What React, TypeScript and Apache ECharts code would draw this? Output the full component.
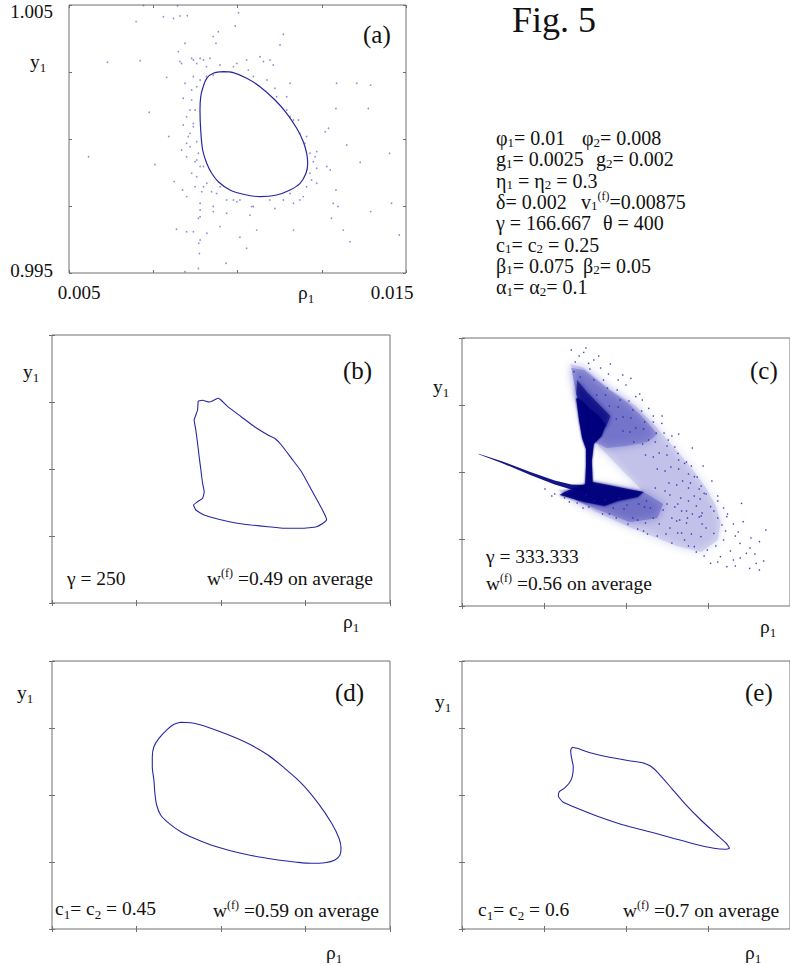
import React, { useEffect, useRef } from "react";
import * as echarts from "echarts";

const SERIF = "'Liberation Serif', 'Times New Roman', Times, serif";
const INK = "#111111";
const FRAME = "#707070";
const LOOP_BLUE = "#2626a4";
const NAVY = "#00007d";

// ---------- panel (a): real axis units ----------
const A_X_MIN = 0.005;
const A_X_MAX = 0.015;
const A_X_STEP = 0.0025;
const A_Y_MIN = 0.995;
const A_Y_MAX = 1.005;
const A_Y_STEP = 0.0025;
const A_X_TICK_LABELS = ["0.005", "0.015"];
const A_Y_TICK_LABELS = ["0.995", "1.005"];

const A_LOOP: number[][] = [
  [0.009579, 1.002511], [0.009282, 1.002451], [0.009086, 1.002265], [0.008967, 1.001892],
  [0.008908, 1.001578], [0.008887, 1.001082], [0.008908, 1.000336], [0.008967, 0.99959],
  [0.009086, 0.999093], [0.009234, 0.99872], [0.00943, 0.998407], [0.009777, 0.998097],
  [0.010172, 0.997937], [0.010668, 0.997847], [0.011163, 0.99791], [0.011558, 0.998097],
  [0.011855, 0.998347], [0.012033, 0.99872], [0.012083, 0.999093], [0.012053, 0.999466],
  [0.011953, 0.999899], [0.011757, 1.000399], [0.01146, 1.000959], [0.011113, 1.001455],
  [0.010668, 1.001951], [0.010273, 1.002265], [0.009875, 1.002474], [0.009579, 1.002511],
];

const A_SCATTER: number[][] = [
  [0.00721, 1.00498], [0.00822, 1.00497], [0.00699, 1.00438], [0.0078, 1.00456], [0.0081, 1.0045],
  [0.00829, 1.00459], [0.00851, 1.0046], [0.01003, 1.00471], [0.00993, 1.00422], [0.01136, 1.00391],
  [0.01126, 1.00351], [0.00928, 1.00382], [0.00943, 1.004], [0.00936, 1.00357], [0.00614, 1.00286],
  [0.00711, 1.00292], [0.0079, 1.0023], [0.00839, 1.00152], [0.00824, 1.00326], [0.00834, 1.00282],
  [0.00869, 1.00295], [0.00889, 1.00301], [0.00908, 1.0027], [0.00988, 1.0027], [0.01067, 1.00307],
  [0.01077, 1.00289], [0.01106, 1.00276], [0.01156, 1.00208], [0.01294, 1.00208], [0.01354, 1.00208],
  [0.01395, 1.00201], [0.01292, 1.00114], [0.01388, 1.00114], [0.0127, 1.0004], [0.0126, 1.00027],
  [0.01324, 0.99978], [0.01364, 0.99913], [0.01451, 0.99947], [0.01265, 0.99897], [0.01275, 0.99884],
  [0.0123, 0.99934], [0.01215, 0.99872], [0.01292, 0.9981], [0.01284, 0.9976], [0.01298, 0.99748],
  [0.01395, 0.99729], [0.01279, 0.99704], [0.01314, 0.9966], [0.01334, 0.99617], [0.0148, 0.99642],
  [0.01457, 0.9976], [0.01166, 1.00071], [0.01146, 1.00158], [0.00738, 1.001], [0.00796, 1.00009],
  [0.00869, 1.00058], [0.00859, 1.00021], [0.00834, 0.99959], [0.00849, 0.99934], [0.00879, 0.99922],
  [0.00889, 0.99897], [0.00755, 0.99905], [0.00812, 0.99841], [0.00837, 0.9981], [0.00849, 0.99785],
  [0.00874, 0.99822], [0.00889, 0.9976], [0.00928, 0.99748], [0.00889, 0.9971], [0.00968, 0.99723],
  [0.00948, 0.99673], [0.00909, 0.99648], [0.01007, 0.99633], [0.01057, 0.9966], [0.01027, 0.99592],
  [0.00966, 0.99536], [0.00884, 0.99517], [0.00844, 0.99505], [0.00819, 0.99663], [0.00849, 0.99654],
  [0.00885, 0.99611], [0.00887, 0.99573], [0.01166, 0.9966], [0.01111, 0.99741], [0.01136, 0.99772],
  [0.01185, 0.99772], [0.01205, 0.99822], [0.0122, 0.99847], [0.01235, 0.99891], [0.01156, 0.99797],
  [0.01047, 0.99748], [0.01007, 0.99772], [0.00988, 0.99772], [0.00938, 0.99797], [0.00899, 0.99822],
  [0.00864, 0.99872], [0.00849, 0.99984], [0.00859, 1.00108], [0.00864, 1.00146], [0.00879, 1.00195],
  [0.00889, 1.0022], [0.00908, 1.00233], [0.00928, 1.00239], [0.00558, 0.99934], [0.01027, 1.00295],
  [0.01047, 1.00233], [0.01087, 1.0022], [0.01116, 1.00158], [0.01156, 1.00083], [0.01185, 1.00021],
  [0.012, 0.99984], [0.01215, 0.99947],
  [0.00844, 1.00357], [0.00829, 1.00289], [0.00864, 1.00301], [0.00879, 1.00282], [0.00899, 1.00295],
  [0.00918, 1.00301], [0.00869, 1.00233], [0.00844, 1.00208], [0.00864, 1.00183], [0.00874, 1.00108],
  [0.00849, 1.00083], [0.00869, 1.00046], [0.00839, 1.00052], [0.00854, 1.00009], [0.00879, 0.9999],
  [0.00859, 0.99971], [0.00884, 0.99947], [0.00874, 0.99915], [0.00899, 0.99897], [0.00879, 0.99859],
  [0.00909, 0.99835], [0.00894, 0.99803], [0.00923, 0.99803], [0.00948, 0.99822], [0.00889, 0.99735],
  [0.00884, 0.99704], [0.00869, 0.99654], [0.00889, 0.99623], [0.00928, 0.99729], [0.00968, 0.99772],
  [0.00998, 0.99766], [0.01042, 0.99748], [0.01037, 0.99716], [0.01096, 0.99772], [0.01166, 0.9976],
  [0.01195, 0.99785], [0.01235, 0.99835], [0.01225, 0.99915], [0.01235, 0.99953], [0.01205, 1.00009],
  [0.01181, 1.00071], [0.01146, 1.00108], [0.01111, 1.00189], [0.01096, 1.00295], [0.01032, 1.00257],
  [0.00998, 1.00282], [0.00948, 1.00276],
];

// ---------- panels (b)-(e): unlabelled axes, arbitrary units ----------
const U_X_MAX = 336;
const U_X_STEP = 84;
const U_Y_MAX = 268;
const U_Y_STEP = 67;

const B_LOOP: number[][] = [
  [145.3, 202], [149.7, 202.7], [156.3, 201], [161.3, 203], [165.3, 204.7], [168, 203],
  [174.7, 196.3], [188, 186.3], [201.3, 176.3], [214.7, 168], [221.3, 164.7], [228, 158],
  [238, 144.7], [248, 131.3], [258, 113], [268, 94.7], [273, 83.7], [271.3, 81.3], [263, 76.3],
  [248, 74.7], [231.3, 74.7], [214.7, 76.3], [198, 78], [181.3, 80.3], [164.7, 84], [151.3, 88],
  [143, 93], [140.7, 98], [144.7, 101.3], [149.7, 104.7], [151.3, 111.3], [149.7, 119.7],
  [148, 133], [146.3, 146.3], [144.7, 159.7], [143, 173], [141.3, 183], [143, 188], [144.7, 193],
  [145.3, 202],
];

// (c) chaotic attractor: dense cores, density envelopes and sparse points
const C_BAND: number[][] = [
  [118, 208], [111, 242], [125, 238], [151, 217], [178, 200], [198, 180], [221, 154], [235, 138],
  [250, 118], [260, 100], [265, 84], [262, 66], [245, 54], [220, 60], [205, 66], [171, 79],
  [138, 94], [115, 107], [98, 116], [128, 118], [138, 121], [186, 114], [136, 164], [125, 185],
];
const C_BAND_MID: number[][] = [
  [118, 208], [112, 238], [125, 236], [151, 216], [170, 203], [186, 188], [200, 172], [190, 164],
  [168, 160], [148, 158], [136, 164], [125, 185],
];
const C_LOWER_MID: number[][] = [
  [108, 113], [138, 121], [186, 114], [206, 102], [200, 88], [172, 84], [140, 96], [118, 105],
];
const C_BLOB: number[][] = [
  [118, 226], [128, 214], [142, 200], [152, 190], [148, 180], [140, 172], [131, 176], [122, 196], [117, 212],
];
const C_TAIL: number[][] = [
  [17, 152.3], [40, 145], [70, 134], [95, 125.5], [112, 121.5], [128, 121], [128, 114],
  [112, 116.5], [95, 121.5], [70, 131], [40, 143.3], [17, 151.7],
];
const C_STEM: number[][] = [
  [126, 118], [127, 140], [127, 157], [123, 168], [120, 185], [117, 208], [122, 206], [130, 198],
  [140, 190], [147, 181], [143, 170], [135, 162], [133, 145], [134, 120],
];
const C_JUNCTION: number[][] = [
  [105, 114], [120, 120], [134, 124], [150, 121], [170, 117], [186, 114], [180, 109], [160, 105],
  [146, 100], [125, 104], [100, 111],
];
const C_SCATTER: number[][] = [
  [124.7, 253.7], [129.7, 242.7], [114.7, 234.3], [164.7, 231], [173, 227.7], [184.7, 206],
  [178, 209.3], [191.3, 197.7], [204.7, 182.7], [211.3, 166], [221.3, 152.7], [228, 142.7],
  [238, 129.3], [248, 112.7], [254.7, 99.3], [286.3, 102.7], [288, 84.3], [271.3, 89.3],
  [266.3, 81], [258, 72.7], [268, 66], [284.7, 62.7], [304.7, 64.3], [311.3, 76], [291.3, 52.7],
  [301.3, 42.7], [304.7, 36], [278, 46], [264.7, 49.3], [251.3, 56], [238, 59.3], [254.7, 42.7],
  [271.3, 39.3], [294.7, 37.7], [228, 66], [244.7, 69.3], [260, 60], [275, 55], [285, 48],
  [262, 88], [270, 75], [280, 70], [295, 58], [250, 78], [245, 90], [258, 95], [240, 100],
  [232, 118], [262, 105], [120, 250], [116, 244], [135, 246], [142, 238], [150, 232], [160, 226],
  [196, 190], [215, 170], [235, 140], [245, 120], [230, 95], [220, 85], [213, 78], [225, 73],
  [190, 72], [180, 77],
  [121, 229], [131, 237], [135, 226], [145, 226], [149, 218], [159, 216], [162, 206], [171, 205],
  [175, 196], [184, 195], [187, 184], [196, 184], [199, 173], [207, 173], [210, 160], [218, 159],
  [222, 146], [230, 144], [232, 132], [241, 129], [243, 117], [250, 112], [138, 211], [147, 211],
  [151, 200], [160, 199], [165, 189], [173, 188], [178, 178], [186, 177], [191, 166], [198, 164],
  [202, 153], [210, 151], [214, 139], [222, 137], [226, 125], [234, 123], [238, 110], [244, 107],
  [246, 93], [149, 186], [158, 187], [165, 175], [172, 174], [176, 164], [185, 162], [188, 151],
  [196, 149], [200, 137], [208, 135], [212, 123], [220, 121], [224, 108], [232, 105], [236, 92],
  [243, 89], [198, 118], [208, 115], [210, 102], [218, 99], [223, 86], [230, 83], [235, 72],
  [193, 98], [187, 99], [175, 88], [166, 97], [155, 98], [147, 106], [135, 105], [127, 111],
  [188, 83], [202, 82], [209, 72], [221, 73], [180, 86], [215, 88], [225, 95], [206, 96],
  [189, 105], [161, 108], [169, 101], [181, 102], [151, 92], [196, 88], [213, 111], [221, 102],
  [231, 88], [246, 82],
  [112, 256], [127, 258], [140, 250], [152, 242], [168, 221], [182, 212], [205, 190], [222, 172],
  [236, 158], [247, 140], [256, 125], [262, 110], [268, 98], [272, 92], [278, 82], [283, 74],
  [296, 68], [300, 52], [309, 45], [280, 40], [262, 44], [248, 50], [240, 54], [232, 60],
  [215, 63], [200, 70], [186, 75], [170, 82], [158, 88], [144, 92], [130, 99], [118, 103],
  [105, 108], [95, 112], [85, 117], [92, 110], [110, 104], [124, 98],
];

const D_LOOP: number[][] = [
  [128, 206.7], [138, 206.3], [148, 204], [164.7, 198.3], [181.3, 191.7], [198, 184], [214.7, 174],
  [231.3, 160.7], [248, 145.7], [264.7, 125.7], [278, 105.7], [285.3, 90.7], [287.3, 80.7],
  [286.3, 74], [281.3, 69], [271.3, 66.3], [258, 65.7], [241.3, 67], [224.7, 69], [208, 71.7],
  [191.3, 75], [174.7, 79], [158, 84], [141.3, 90.7], [128, 97.3], [116.3, 105.7], [108, 114],
  [104, 124], [102.3, 135.7], [101.3, 149], [99.7, 162.3], [99.7, 172.3], [101.3, 182.3],
  [106.3, 190.7], [114.7, 199.7], [121.3, 204.7], [128, 206.7],
];

const E_LOOP: number[][] = [
  [113, 181.7], [118, 180.7], [131.3, 176.3], [151.3, 171.7], [171.3, 168.3], [184.7, 166.3],
  [193, 163], [201.3, 155.7], [214.7, 140.7], [228, 125.7], [244.7, 109], [261.3, 94], [271.3, 85],
  [274, 80.7], [269.7, 79.7], [258, 80.7], [238, 85], [218, 90.3], [198, 95.7], [178, 100.7],
  [158, 106.3], [138, 113], [118, 120.7], [103, 127.3], [98.7, 133], [99.7, 137.3], [104.7, 140.7],
  [109.7, 145.7], [113, 152.3], [114, 162.3], [112, 172.3], [111.3, 179], [113, 181.7],
];

// ---------- texts ----------
const PANEL_TAGS = ["(a)", "(b)", "(c)", "(d)", "(e)"];
const FIG_TITLE = "Fig. 5";
const PARAM_LINES: string[][] = [
  ["{n|φ}{s|1}{n|= 0.01}", "{n|φ}{s|2}{n|= 0.008}"],
  ["{n|g}{s|1}{n|= 0.0025}", "{n|g}{s|2}{n|= 0.002}"],
  ["{n|η}{s|1}{n| = η}{s|2}{n| = 0.3}"],
  ["{n|δ= 0.002}", "{n|v}{s|1}{p|(f)}{n|=0.00875}"],
  ["{n|γ = 166.667}", "{n|θ = 400}"],
  ["{n|c}{s|1}{n|= c}{s|2}{n| = 0.25}"],
  ["{n|β}{s|1}{n|= 0.075}", "{n|β}{s|2}{n|= 0.05}"],
  ["{n|α}{s|1}{n|= α}{s|2}{n|= 0.1}"],
];
const NOTE_B = ["{n|γ = 250}", "{n|w}{p|(f)}{n| =0.49 on average}"];
const NOTE_C = ["{n|γ = 333.333}", "{n|w}{p|(f)}{n| =0.56 on average}"];
const NOTE_D = ["{n|c}{s|1}{n|= c}{s|2}{n| = 0.45}", "{n|w}{p|(f)}{n| =0.59 on average}"];
const NOTE_E = ["{n|c}{s|1}{n|= c}{s|2}{n| = 0.6}", "{n|w}{p|(f)}{n| =0.7 on average}"];
const Y_NAME = "{n|y}{s|1}";
const X_NAME = "{n|ρ}{s|1}";

// layout
const GRIDS = [
  { left: 69, top: 5, width: 337, height: 268 },
  { left: 52, top: 335, width: 338, height: 268 },
  { left: 462, top: 338, width: 337, height: 268 },
  { left: 52, top: 661, width: 338, height: 268 },
  { left: 462, top: 661, width: 337, height: 268 },
];

function rich(S: number, lh: number, subDrop: number, subScale: number) {
  return {
    n: { fontSize: S, fontFamily: SERIF, fill: INK, color: INK, lineHeight: lh },
    s: { fontSize: Math.round(S * subScale), fontFamily: SERIF, fill: INK, color: INK, lineHeight: lh, padding: [subDrop, 0, 0, 0] },
    p: { fontSize: Math.round(S * 0.62), fontFamily: SERIF, fill: INK, color: INK, lineHeight: lh, padding: [0, 0, Math.round(S * 0.55), 0] },
  };
}

function txt(text: string, x: number, y: number, S: number, lh = S + 2, subDrop = Math.round(S * 0.62), subScale = 0.68) {
  return {
    type: "text",
    x,
    y,
    silent: true,
    style: { text, rich: rich(S, lh, subDrop, subScale), fill: INK, align: "left", verticalAlign: "middle" },
  };
}

const near = (a: number, b: number) => Math.abs(a - b) < 1e-9;

function buildOption() {
  const tick = { show: true, inside: true, length: 3, lineStyle: { color: FRAME, width: 1 } };
  const base = {
    type: "value",
    axisLine: { show: false },
    axisTick: tick,
    splitLine: { show: false },
    axisLabel: { show: false },
  };
  const LS = 19;
  const xAxis: any[] = [];
  const yAxis: any[] = [];
  GRIDS.forEach((_, gi) => {
    const isA = gi === 0;
    const xr = isA ? { min: A_X_MIN, max: A_X_MAX, interval: A_X_STEP } : { min: 0, max: U_X_MAX, interval: U_X_STEP };
    const yr = isA ? { min: A_Y_MIN, max: A_Y_MAX, interval: A_Y_STEP } : { min: 0, max: U_Y_MAX, interval: U_Y_STEP };
    xAxis.push({
      ...base, ...xr, gridIndex: gi, position: "bottom",
      axisLabel: isA
        ? {
            show: true, margin: 10, showMinLabel: true, showMaxLabel: true,
            formatter: (v: number) => (near(v, A_X_MIN) ? `{l|${A_X_TICK_LABELS[0]}}` : near(v, A_X_MAX) ? `{r|${A_X_TICK_LABELS[1]}}` : ""),
            rich: {
              l: { fontSize: LS, fontFamily: SERIF, color: INK, padding: [0, 0, 0, 20] },
              r: { fontSize: LS, fontFamily: SERIF, color: INK, padding: [0, 28, 0, 0] },
            },
          }
        : { show: false },
    });
    xAxis.push({ ...base, ...xr, gridIndex: gi, position: "top" });
    yAxis.push({
      ...base, ...yr, gridIndex: gi, position: "left",
      axisLabel: isA
        ? {
            show: true, margin: 16, showMinLabel: true, showMaxLabel: true,
            formatter: (v: number) => (near(v, A_Y_MIN) ? `{b|${A_Y_TICK_LABELS[0]}}` : near(v, A_Y_MAX) ? `{t|${A_Y_TICK_LABELS[1]}}` : ""),
            rich: {
              b: { fontSize: LS, fontFamily: SERIF, color: INK, padding: [0, 0, 5, 0] },
              t: { fontSize: LS, fontFamily: SERIF, color: INK, padding: [12, 0, 0, 0] },
            },
          }
        : { show: false },
    });
    yAxis.push({ ...base, ...yr, gridIndex: gi, position: "right" });
  });

  const loop = (data: number[][], gi: number, smooth: number, width = 1.1) => ({
    type: "line", data, xAxisIndex: 2 * gi, yAxisIndex: 2 * gi, smooth,
    showSymbol: false, symbol: "none", silent: true,
    lineStyle: { color: LOOP_BLUE, width },
  });
  const poly = (pts: number[][], gi: number, fill: string, opacity: number, blur = 0) => ({
    type: "custom", xAxisIndex: 2 * gi, yAxisIndex: 2 * gi, silent: true,
    data: [pts[0]],
    renderItem: (_p: any, api: any) => ({
      type: "polygon",
      shape: { points: pts.map((p) => api.coord(p)) },
      style: blur
        ? { fill, opacity, shadowBlur: blur, shadowColor: fill, shadowOffsetX: 0, shadowOffsetY: 0 }
        : { fill, opacity },
    }),
  });
  const dots = (data: number[][], gi: number, color: string, size: number, opacity: number) => ({
    type: "scatter", data, xAxisIndex: 2 * gi, yAxisIndex: 2 * gi, silent: true,
    symbol: "circle", symbolSize: size, itemStyle: { color, opacity },
  });

  const series = [
    dots(A_SCATTER, 0, "#5050c4", 1.7, 0.65),
    loop(A_LOOP, 0, 0.35, 1.2),
    loop(B_LOOP, 1, 0.15),
    poly(C_BAND, 2, "#2a2ab5", 0.16, 10),
    poly(C_BAND_MID, 2, "#1a1aa5", 0.26, 8),
    poly(C_LOWER_MID, 2, "#1a1aa5", 0.3, 8),
    poly(C_BLOB, 2, NAVY, 0.6, 5),
    poly(C_TAIL, 2, NAVY, 0.92),
    poly(C_STEM, 2, NAVY, 0.95, 2),
    poly(C_JUNCTION, 2, NAVY, 0.85, 3),
    dots(C_SCATTER, 2, "#1e1eaa", 1.5, 0.85),
    loop(D_LOOP, 3, 0.35),
    loop(E_LOOP, 4, 0.15),
  ];

  const S = 19.5;
  const PS = 20;
  const tagPos = [[363, 34], [343, 370], [750, 370], [335, 692], [745, 692]];
  const yPos = [[30, 61], [23, 371], [433, 386], [17, 692], [435, 701]];
  const xPos = [[298, 292], [343, 621], [760, 626], [326, 952], [745, 952]];
  const firstX = 496;
  const secondX = [582, 596, 0, 581, 603, 0, 583, 0];
  const graphics: any[] = [];
  graphics.push({
    type: "text", x: 512, y: 20, silent: true,
    style: { text: FIG_TITLE, fontSize: 36, fontFamily: SERIF, fill: INK, align: "left", verticalAlign: "middle" },
  });
  PANEL_TAGS.forEach((t, i) => graphics.push(txt(`{n|${t}}`, tagPos[i][0], tagPos[i][1], 25)));
  yPos.forEach(([x, y]) => graphics.push(txt(Y_NAME, x, y, S)));
  xPos.forEach(([x, y]) => graphics.push(txt(X_NAME, x, y, S)));
  PARAM_LINES.forEach((parts, i) => {
    const y = 138 + i * 21.3;
    graphics.push(txt(parts[0], firstX, y, PS, 19, 8, 0.64));
    if (parts[1]) graphics.push(txt(parts[1], secondX[i], y, PS, 19, 8, 0.64));
  });
  graphics.push(txt(NOTE_B[0], 67, 578, S), txt(NOTE_B[1], 207, 578, S));
  graphics.push(txt(NOTE_C[0], 486, 556, S), txt(NOTE_C[1], 486, 583, S));
  graphics.push(txt(NOTE_D[0], 55, 908, S), txt(NOTE_D[1], 213, 910, S));
  graphics.push(txt(NOTE_E[0], 478, 909, S), txt(NOTE_E[1], 623, 910, S));

  return {
    animation: false,
    backgroundColor: "#ffffff",
    grid: GRIDS.map((g) => ({ ...g, show: true, borderColor: FRAME, borderWidth: 1, containLabel: false })),
    xAxis,
    yAxis,
    series,
    graphic: { elements: graphics },
  };
}

export default function App() {
  const ref = useRef<HTMLDivElement>(null);
  useEffect(() => {
    if (!ref.current) return;
    const chart = echarts.init(ref.current, null, { renderer: "svg" });
    chart.setOption(buildOption() as any);
    return () => chart.dispose();
  }, []);
  return <div ref={ref} style={{ position: "absolute", left: 0, top: 0, width: 790, height: 966 }} />;
}
